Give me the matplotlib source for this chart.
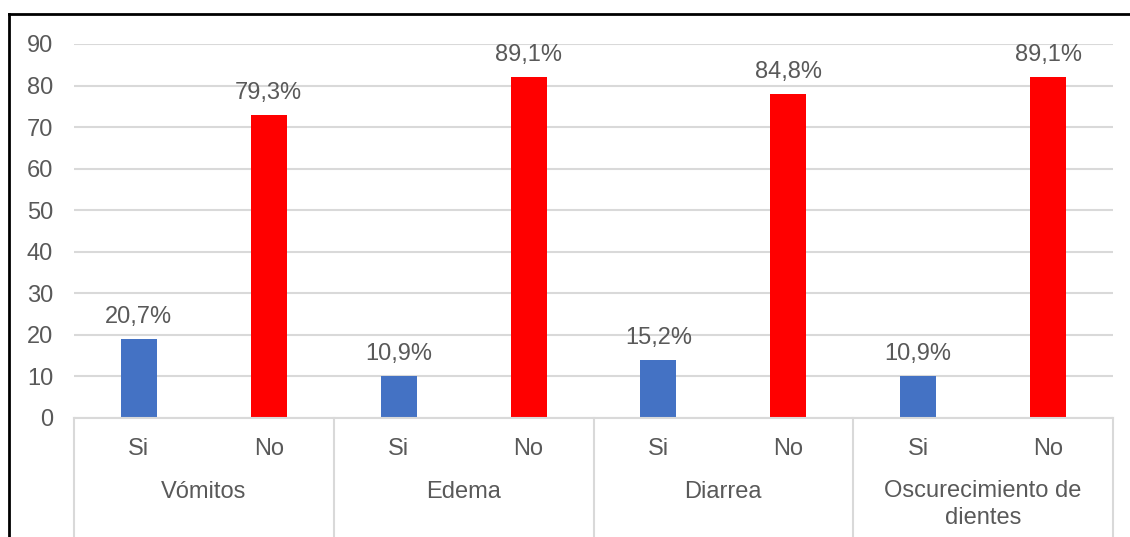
import matplotlib
matplotlib.use("Agg")
import matplotlib.pyplot as plt
from matplotlib.lines import Line2D
import matplotlib.transforms as mtransforms

groups = ["Vómitos", "Edema", "Diarrea", "Oscurecimiento de\ndientes"]
sub_labels = ["Si", "No"]
si_values = [19, 10, 14, 10]
no_values = [73, 82, 78, 82]
si_pct = ["20,7%", "10,9%", "15,2%", "10,9%"]
no_pct = ["79,3%", "89,1%", "84,8%", "89,1%"]
yticks = [0, 10, 20, 30, 40, 50, 60, 70, 80, 90]

W, H = 1130, 537
fig = plt.figure(figsize=(W / 100, H / 100), dpi=100)
plt.rcParams['font.family'] = ['Liberation Sans', 'DejaVu Sans']
txt = "#595959"
fs = 17

left, right, top, bottom = 74, 1113, 44, 418
ax = fig.add_axes([left / W, 1 - bottom / H, (right - left) / W, (bottom - top) / H])

colors = {"Si": "#4472C4", "No": "#FF0000"}
bw = 0.277
xs_si = [2 * i for i in range(len(groups))]
xs_no = [2 * i + 1 for i in range(len(groups))]
ax.bar(xs_si, si_values, width=bw, color=colors["Si"], zorder=3)
ax.bar(xs_no, no_values, width=bw, color=colors["No"], zorder=3)

for x, v, p in zip(xs_si + xs_no, si_values + no_values, si_pct + no_pct):
    ax.annotate(p, (x, v), xytext=(0, 11), textcoords="offset pixels",
                ha="center", va="bottom", fontsize=fs, color=txt)

ax.set_xlim(-0.5, 2 * len(groups) - 0.5)
ax.set_ylim(0, 90)
ax.set_yticks(yticks)
ax.set_yticklabels([str(t) for t in yticks], fontsize=fs, color=txt)
ax.tick_params(axis="y", length=0, pad=15)
ax.set_xticks([])
ax.grid(axis="y", color="#d9d9d9", linewidth=1.5, zorder=0)
for s in ["top", "right", "left"]:
    ax.spines[s].set_visible(False)
ax.spines["bottom"].set_color("#d9d9d9")
ax.spines["bottom"].set_linewidth(1.5)
ax.spines["bottom"].set_zorder(4)

trans = mtransforms.blended_transform_factory(ax.transData, ax.transAxes)
for i, g in enumerate(groups):
    for j, s in enumerate(sub_labels):
        ax.annotate(s, (2 * i + j, 0), xycoords=trans, xytext=(0, -31),
                    textcoords="offset pixels", ha="center", va="center",
                    fontsize=fs, color=txt)
    off = -86.5 if "\n" in g else -74
    ax.annotate(g, (2 * i + 0.5, 0), xycoords=trans, xytext=(0, off),
                textcoords="offset pixels", ha="center", va="center",
                fontsize=fs, color=txt, linespacing=1.25)

axh = bottom - top
for k in range(len(groups) + 1):
    xk = 2 * k - 0.5
    ax.add_line(Line2D([xk, xk], [0, -(H - bottom) / axh], transform=trans,
                       color="#d9d9d9", linewidth=1.5, clip_on=False))

# outer frame (top and left)
fig.add_artist(Line2D([9 / W, 9 / W], [0, 1 - 14 / H], color="black", linewidth=2,
                      transform=fig.transFigure))
fig.add_artist(Line2D([9 / W, 1], [1 - 14 / H, 1 - 14 / H], color="black", linewidth=2,
                      transform=fig.transFigure))

fig.savefig("out.png", dpi=100)
